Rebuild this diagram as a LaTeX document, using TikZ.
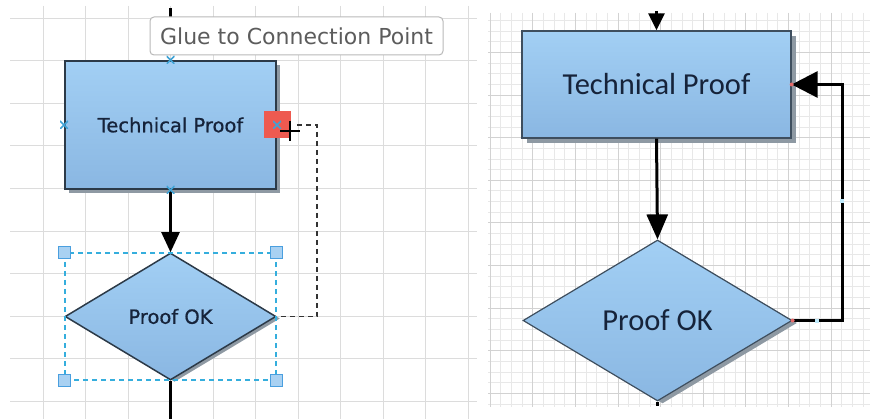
\documentclass[tikz,border=0pt]{standalone}
\usepackage{fontspec}
\setmainfont{DejaVu Sans}
\newfontfamily\lfont[FakeBold=0.7]{DejaVu Sans}
\newfontfamily\calfont{Carlito}
\usetikzlibrary{shapes.geometric,arrows.meta,shadows}
\definecolor{boxtop}{HTML}{A2CFF4}
\definecolor{boxbot}{HTML}{8AB7E2}
\definecolor{edgeL}{HTML}{2C3A48}
\definecolor{edgeR}{HTML}{3E4E5E}
\definecolor{shadowc}{HTML}{8E99A3}
\definecolor{txtc}{HTML}{16233A}
\definecolor{lgridc}{HTML}{DCDCDC}
\definecolor{rminor}{HTML}{E8E8E8}
\definecolor{rmajor}{HTML}{D2D2D2}
\definecolor{cpc}{HTML}{3FA3D6}
\definecolor{selc}{HTML}{35AEDD}
\definecolor{hdlc}{HTML}{4A9FDF}
\definecolor{hfill}{HTML}{A9D1F2}
\definecolor{redsq}{HTML}{EE5A50}
\definecolor{tipc}{HTML}{5C5C5C}
\definecolor{pinkc}{HTML}{E46A6A}
\tikzset{
  lgrid/.style={draw=lgridc, line width=0.9pt},
  rgridminor/.style={draw=rminor, line width=0.5pt},
  rgridmajor/.style={draw=rmajor, line width=0.6pt},
  lrect/.style={draw=edgeL, line width=2pt, top color=boxtop, bottom color=boxbot,
    minimum width=211pt, minimum height=128pt, inner sep=0pt, text=txtc,
    font=\lfont\fontsize{19.5}{22}\selectfont,
    drop shadow={shadow xshift=4pt, shadow yshift=-4pt, fill=shadowc, opacity=1}},
  ldiam/.style={shape=diamond, draw=edgeL, line width=1.5pt, top color=boxtop, bottom color=boxbot,
    aspect=1.66, minimum width=211pt, minimum height=127pt, inner sep=0pt, text=txtc,
    font=\lfont\fontsize{19.5}{22}\selectfont,
    drop shadow={shadow xshift=4pt, shadow yshift=-2pt, fill=shadowc, opacity=1}},
  rrect/.style={draw=edgeR, line width=1.3pt, top color=boxtop, bottom color=boxbot,
    minimum width=269pt, minimum height=107pt, inner sep=0pt, text=txtc,
    font=\calfont\fontsize{30.5}{34}\selectfont,
    drop shadow={shadow xshift=5pt, shadow yshift=-5pt, fill=shadowc, opacity=1}},
  rdiam/.style={shape=diamond, draw=edgeR, line width=1.2pt, top color=boxtop, bottom color=boxbot,
    aspect=1.67, minimum width=269pt, minimum height=161pt, inner sep=0pt, text=txtc,
    font=\calfont\fontsize{30.5}{34}\selectfont,
    drop shadow={shadow xshift=5pt, shadow yshift=-2.5pt, fill=shadowc, opacity=1}},
  tipbox/.style={draw=gray!55, line width=1pt, rounded corners=4pt, fill=white,
    minimum width=293pt, minimum height=38pt, inner sep=0pt, text=tipc,
    font=\fontsize{22}{24}\selectfont},
  cpx/.style={minimum size=8pt, inner sep=0pt, path picture={
    \draw[cpc, line width=1.7pt] (path picture bounding box.north west) -- (path picture bounding box.south east)
      (path picture bounding box.north east) -- (path picture bounding box.south west);}},
  cursorplus/.style={minimum size=20pt, inner sep=0pt, path picture={
    \draw[black, line width=1.8pt] (path picture bounding box.north) -- (path picture bounding box.south)
      (path picture bounding box.west) -- (path picture bounding box.east);}},
  selbox/.style={draw=selc, line width=1.2pt, dash pattern=on 5pt off 4pt,
    minimum width=211pt, minimum height=127pt, inner sep=0pt},
  handle/.style={draw=hdlc, fill=hfill, line width=1pt, minimum size=12pt, inner sep=0pt},
  larrow/.style={line width=2.2pt, -{Triangle[length=20pt,width=18pt]}},
  lline/.style={line width=2.2pt},
  dashline/.style={line width=1.8pt, draw=black!80, dash pattern=on 5pt off 4pt},
  rarrow/.style={line width=3pt, -{Triangle[length=25pt,width=21pt]}},
  rarrowbig/.style={line width=3pt, -{Triangle[length=26pt,width=26pt]}},
  rarrowtop/.style={line width=3pt, -{Triangle[length=17pt,width=16pt]}},
  rline/.style={line width=3pt},
  dotred/.style={circle, fill=pinkc, minimum size=4pt, inner sep=0pt},
  dotblue/.style={rectangle, fill=cyan!25, minimum size=4pt, inner sep=0pt},
}
\begin{document}
\begin{tikzpicture}[x=1pt,y=-1pt]
\useasboundingbox (0,0) rectangle (874,419);
\fill[white] (0,0) rectangle (874,419);
% ---------- left panel grid ----------
\foreach \k in {0,...,9} \draw[lgrid] (10,{18+42.6*\k}) -- (477,{18+42.6*\k});
\foreach \k in {0,...,10} \draw[lgrid] ({43+42.5*\k},6) -- ({43+42.5*\k},419);
% ---------- right panel grid ----------
\begin{scope}
\clip (488,13) rectangle (870,407);
\foreach \k in {0,...,36} \draw[rgridminor] ({490.05+10.65*\k},13) -- ({490.05+10.65*\k},407);
\foreach \k in {0,...,37} \draw[rgridminor] (488,{9.7+10.65*\k}) -- (870,{9.7+10.65*\k});
\foreach \k in {0,...,9} \draw[rgridmajor] ({490.05+42.6*\k},13) -- ({490.05+42.6*\k},407);
\foreach \k in {0,...,9} \draw[rgridmajor] (488,{9.7+42.6*\k}) -- (870,{9.7+42.6*\k});
\end{scope}
% ---------- left panel ----------
\node[lrect] (r1) at (170.5,125) {Technical Proof};
\node[ldiam] (d1) at (170.5,316.5) {Proof OK};
\node[selbox] (sel) at (170.5,316.5) {};
\node[handle] (h1) at (sel.north west) {};
\node[handle] (h2) at (sel.north east) {};
\node[handle] (h3) at (sel.south west) {};
\node[handle] (h4) at (sel.south east) {};
\coordinate (ltop) at (170.5,8);
\coordinate (ltop2) at (170.5,17);
\draw[lline] (ltop) -- (ltop2);
\draw[larrow] (r1.south) -- (d1.north);
\coordinate (lbot) at (170.5,419);
\draw[lline] (d1.south) -- (lbot);
\node[minimum size=27pt, inner sep=0pt, fill=redsq] (red) at (r1.east) {};
\node[cpx] (cpn) at (r1.north) {};
\node[cpx] (cpw) at (r1.west) {};
\node[cpx] (cpe) at (r1.east) {};
\node[cpx] (cps) at (r1.south) {};
\coordinate (dst) at (297,125);
\coordinate (dcor) at (317,125);
\draw[dashline] (dst) -- (dcor) |- (d1.east);
\node[cursorplus] (cur) at (290,131) {};
\node[tipbox] (tip) at (296.5,36) {Glue to Connection Point};
% ---------- right panel ----------
\node[rrect] (r2) at (656.5,84.5) {Technical Proof};
\node[rdiam] (d2) at (657.5,320.5) {Proof OK};
\coordinate (rtop) at (656.5,11);
\draw[rarrowtop] (rtop) -- (r2.north);
\draw[rarrow] (r2.south) -- (d2.north);
\coordinate (rbot) at (657.5,406);
\draw[rline] (d2.south) -- (rbot);
\coordinate (rc1) at (842,320.5);
\draw[rarrowbig] (d2.east) -- (rc1) |- (r2.east);
\node[dotred] (pr1) at (r2.east) {};
\node[dotred] (pr2) at (d2.east) {};
\node[dotblue] (mb1) at (842,201) {};
\node[dotblue] (mb2) at (817,320.5) {};
\end{tikzpicture}
\end{document}
